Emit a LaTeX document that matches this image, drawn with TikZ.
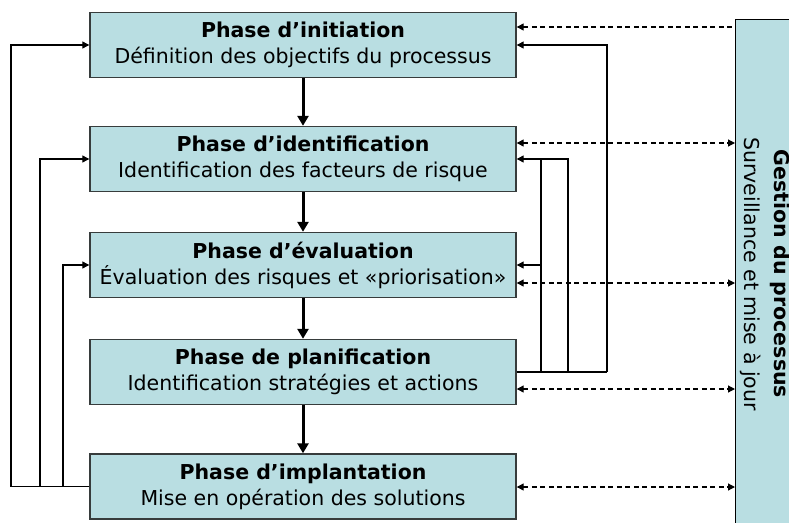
\documentclass[tikz,border=0pt]{standalone}
\usepackage{fontspec}
\setmainfont{DejaVu Sans}
\usetikzlibrary{arrows.meta}
\definecolor{boxfill}{RGB}{185,222,226}
\definecolor{boxline}{RGB}{55,60,60}
\tikzset{
  phase/.style={draw=boxline, line width=1.4pt, fill=boxfill, minimum width=426pt,
    minimum height=65pt, inner sep=0pt, align=center, font=\fontsize{20.5}{26}\selectfont},
  flow/.style={line width=3pt, -{Triangle[length=10pt,width=11pt]}},
  fb/.style={line width=1.2pt, -{Triangle[length=7pt,width=7pt]}},
  plainline/.style={line width=1.2pt},
  mon/.style={line width=1.2pt, dash pattern=on 5pt off 3.5pt,
    {Triangle[length=7pt,width=7pt]}-{Triangle[length=7pt,width=7pt]}},
  monl/.style={line width=1.2pt, dash pattern=on 5pt off 3.5pt,
    {Triangle[length=7pt,width=7pt]}-},
}
\begin{document}
\begin{tikzpicture}[x=1pt,y=-1pt]
\useasboundingbox (0,0) rectangle (789,522);
\begin{scope}
\clip (0,0) rectangle (789,522);
\node[draw=black, line width=1.4pt, fill=boxfill, minimum width=80pt, minimum height=530pt,
  anchor=north west, inner sep=0pt] (panel) at (735,19) {};
\node[rotate=-90, align=center, font=\fontsize{20.5}{30}\selectfont] (ptext) at (765,274)
  {\textbf{Gestion du processus}\\Surveillance et mise à jour};
\end{scope}

\node[phase] (b1) at (303,45) {\textbf{Phase d’initiation}\\Définition des objectifs du processus};
\node[phase] (b2) at (303,159) {\textbf{Phase d’identification}\\Identification des facteurs de risque};
\node[phase] (b3) at (303,265) {\textbf{Phase d’évaluation}\\Évaluation des risques et «priorisation»};
\node[phase] (b4) at (303,372) {\textbf{Phase de planification}\\Identification stratégies et actions};
\node[phase] (b5) at (303,486.5) {\textbf{Phase d’implantation}\\Mise en opération des solutions};

% main flow
\draw[flow] (b1.south) -- (b2.north);
\draw[flow] (b2.south) -- (b3.north);
\draw[flow] (b3.south) -- (b4.north);
\draw[flow] (b4.south) -- (b5.north);

% left feedback
\coordinate (l1) at (11,486.5);
\coordinate (l2) at (40,486.5);
\coordinate (l3) at (63,486.5);
\draw[plainline] (b5.west) -- (l1);
\draw[fb] (l1) |- (b1.west);
\draw[fb] (l2) |- (b2.west);
\draw[fb] (l3) |- (b3.west);

% right feedback
\coordinate (r1) at (607,372);
\coordinate (r2) at (568,372);
\coordinate (r3) at (541,372);
\coordinate (r3b) at (541,265);
\draw[plainline] (b4.east) -- (r1);
\draw[fb] (r1) |- (b1.east);
\draw[fb] (r2) |- (b2.east);
\draw[plainline] (r3) -- (541,159);
\draw[fb] (r3b) -- (b3.east);

% monitoring links
\draw[monl] (b1.east |- 0,27) -- (panel.west |- 0,27);
\draw[mon] (b2.east |- 0,143) -- (panel.west |- 0,143);
\draw[mon] (b3.east |- 0,283) -- (panel.west |- 0,283);
\draw[mon] (b4.east |- 0,389) -- (panel.west |- 0,389);
\draw[mon] (b5.east |- 0,487) -- (panel.west |- 0,487);
\end{tikzpicture}
\end{document}
